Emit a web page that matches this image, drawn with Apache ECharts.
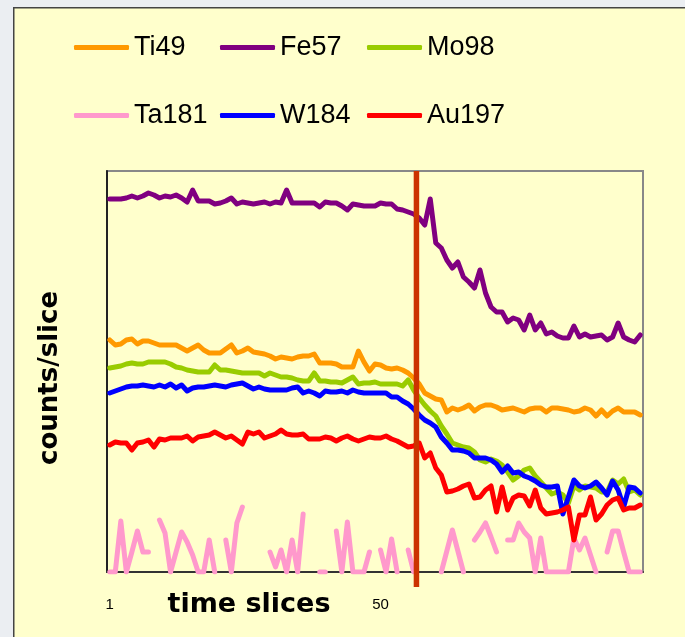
<!DOCTYPE html>
<html lang="en">
<head>
    <meta charset="UTF-8">
    <title>counts/slice</title>
    <script src="https://cdn.jsdelivr.net/npm/echarts@6/dist/echarts.min.js"></script>
    <style>
        html, body { margin: 0; height: 100%; background: #EBEEF2; }
        #main { width: 685px; height: 637px; }
    </style>
</head>
<body>
<div id="main"></div>
<script>
    // time slices 1..97
    var slices = Array.from({ length: 97 }, function (_, i) { return String(i + 1); });

    var ti49 = [232,227,228,232,233,228,231,231,229,227,
        227,227,227,224,221,224,227,222,219,219,
        219,223,227,219,221,224,220,219,218,216,
        213,215,214,213,215,216,216,218,209,209,
        209,208,205,205,205,221,210,201,208,207,
        204,203,204,202,199,194,188,179,176,173,
        172,160,164,162,164,167,161,165,167,167,
        165,162,163,164,162,160,163,164,164,160,
        164,164,163,162,160,161,164,162,156,162,
        156,161,164,160,160,160,157];

    var fe57 = [373,373,373,374,376,374,376,379,377,374,
        376,375,377,374,370,382,371,371,371,368,
        369,371,374,368,370,369,368,369,370,368,
        370,369,382,369,369,369,369,369,365,370,
        369,369,366,362,368,367,366,366,366,369,
        368,368,363,362,360,358,354,347,373,329,
        324,312,304,310,295,290,284,302,279,265,
        260,260,250,254,252,242,257,242,249,238,
        240,236,234,234,246,235,238,235,236,237,
        232,235,249,235,232,230,237];

    var mo98 = [204,205,206,208,209,208,208,210,210,210,
        210,208,205,204,202,201,200,200,200,207,
        202,202,201,200,199,199,199,199,196,199,
        197,195,195,194,192,191,191,199,191,191,
        190,190,189,192,195,188,189,189,190,188,
        188,188,188,186,192,182,174,167,161,156,
        146,138,129,127,125,124,120,112,110,113,
        111,107,100,92,96,102,104,96,90,84,
        78,80,77,69,86,82,86,85,84,80,
        80,92,88,93,80,82,77];

    var ta181 = [0,0,51,0,20,41,20,20,null,52,
        39,0,20,40,30,17,0,0,32,0,
        null,32,0,49,65,null,null,null,null,20,
        5,22,0,32,0,58,null,null,0,0,
        null,41,0,50,0,0,0,20,null,22,
        0,33,0,null,22,0,null,null,null,null,
        0,21,42,21,0,null,32,40,49,35,
        20,null,32,32,49,40,34,0,34,0,
        0,0,0,0,34,22,34,17,0,null,
        20,41,41,20,0,0,0];

    var w184 = [179,181,183,185,186,186,187,186,185,187,
        185,188,184,187,181,184,185,185,186,187,
        186,185,187,188,189,186,183,185,183,182,
        182,182,182,184,185,179,181,179,176,181,
        180,180,181,179,182,180,179,179,179,179,
        179,175,175,171,168,163,157,152,149,145,
        135,129,122,122,121,119,114,114,114,112,
        108,100,106,99,100,96,94,91,87,85,
        85,86,58,75,92,86,84,86,90,84,
        77,91,82,65,85,84,79];

    var au197 = [127,130,129,129,122,129,130,132,125,133,
        132,134,134,134,136,131,135,136,137,140,
        137,134,136,132,128,140,138,140,134,136,
        138,142,138,137,137,138,133,133,133,135,
        134,131,134,136,133,131,133,135,134,134,
        136,133,131,128,125,126,129,114,119,104,
        97,80,81,83,86,88,74,75,82,86,
        60,85,62,74,77,76,66,82,64,58,
        59,60,62,65,32,57,57,75,52,58,
        67,72,74,62,64,64,67];

    // event marker: boundary after slice 56, drawn a little below the axis
    var eventSlice = 56;
    var eventSpan = [-15, 401];

    var names = ['Ti49', 'Fe57', 'Mo98', 'Ta181', 'W184', 'Au197'];
    var colors = ['#FF9900', '#800080', '#99CC00', '#FF99CC', '#0000FF', '#FF0000'];
    var values = [ti49, fe57, mo98, ta181, w184, au197];

    var legendLeft = [74, 220, 367];
    var legendTop = [34, 102];

    var chart = echarts.init(document.getElementById('main'));

    var series = names.map(function (name, i) {
        return {
            name: name,
            type: 'line',
            data: values[i],
            showSymbol: false,
            symbol: 'none',
            connectNulls: false,
            lineStyle: { color: colors[i], width: 5, cap: 'round', join: 'round' },
            itemStyle: { color: colors[i] },
            silent: true,
            z: 2 + i
        };
    });

    series.push({
        name: 'event',
        type: 'line',
        xAxisIndex: 1,
        clip: false,
        symbol: 'none',
        silent: true,
        data: [[eventSlice, eventSpan[0]], [eventSlice, eventSpan[1]]],
        lineStyle: { color: '#CC3300', width: 5.5 },
        z: 20
    });

    var legends = names.map(function (name, i) {
        return {
            data: [name],
            left: legendLeft[i % 3],
            top: legendTop[Math.floor(i / 3)],
            padding: 0,
            icon: 'roundRect',
            itemWidth: 55,
            itemHeight: 5,
            selectedMode: false,
            textStyle: {
                fontSize: 27,
                fontFamily: 'Liberation Sans',
                color: '#000',
                padding: [0, 0, 13, 0]
            }
        };
    });

    var option = {
        backgroundColor: '#EBEEF2',
        animation: false,
        graphic: [{
            type: 'rect',
            left: 13,
            top: 7,
            shape: { width: 700, height: 660 },
            style: { fill: '#FFFFCC', stroke: '#444', lineWidth: 1.5 },
            z: -10
        }],
        legend: legends,
        grid: {
            left: 107, top: 171, right: 42, bottom: 65,
            outerBoundsMode: 'none',
            show: true,
            borderColor: '#888',
            borderWidth: 2,
            backgroundColor: 'transparent'
        },
        xAxis: [{
            type: 'category',
            data: slices,
            boundaryGap: true,
            name: 'time slices',
            nameLocation: 'middle',
            nameGap: 19,
            nameMoveOverlap: false,
            nameTextStyle: {
                fontFamily: 'DejaVu Sans',
                fontWeight: 'bold',
                fontSize: 27,
                color: '#000',
                padding: [0, 252, 0, 0]
            },
            axisLine: { lineStyle: { color: '#333', width: 2 } },
            axisTick: { interval: 48, length: 5, lineStyle: { color: '#333', width: 1.5 } },
            axisLabel: { interval: 48, margin: 25, fontSize: 15, color: '#000', fontFamily: 'Liberation Sans' },
            splitLine: { show: false }
        }, {
            type: 'value',
            min: 0,
            max: slices.length,
            show: false
        }],
        yAxis: {
            type: 'value',
            min: 0,
            max: 401,
            name: 'counts/slice',
            nameLocation: 'middle',
            nameGap: 44,
            nameMoveOverlap: false,
            nameTextStyle: {
                fontFamily: 'DejaVu Sans',
                fontWeight: 'bold',
                fontSize: 26,
                color: '#000',
                padding: [0, 13, 0, 0]
            },
            axisLine: { show: true, lineStyle: { color: '#222', width: 2 } },
            axisTick: { show: false },
            axisLabel: { show: false },
            splitLine: { show: false }
        },
        series: series
    };

    chart.setOption(option);
</script>
</body>
</html>
